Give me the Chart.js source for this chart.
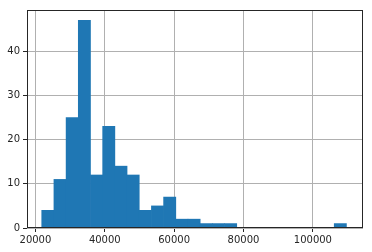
<!DOCTYPE html>
<html>
<head>
<meta charset="utf-8">
<script src="https://cdn.jsdelivr.net/npm/chart.js@4.4.0/dist/chart.umd.min.js"></script>
<style>
    html, body { margin: 0; padding: 0; background: #fff; }
    #wrap { width: 372px; height: 252px; }
</style>
</head>
<body>
<div id="wrap"><canvas id="histChart"></canvas></div>
<script>
// histogram bins
const binStart = 21820;
const binWidth = 3514;
const counts = [4, 11, 25, 47, 12, 23, 14, 12, 4, 5, 7, 2, 2, 1, 1, 1, 0, 0, 0, 0, 0, 0, 0, 0, 1];
const xTicks = [20000, 40000, 60000, 80000, 100000];
const yTicks = [0, 10, 20, 30, 40];

const points = counts.map((c, i) => ({ x: binStart + binWidth * (i + 0.5), y: c }));

// matplotlib style frame around the plot area
const framePlugin = {
    id: "frame",
    afterDraw(chart) {
        const a = chart.chartArea;
        const ctx = chart.ctx;
        ctx.save();
        ctx.strokeStyle = "#262626";
        ctx.lineWidth = 1;
        ctx.strokeRect(a.left + 0.5, a.top + 0.5, a.right - a.left - 1, a.bottom - a.top - 1);
        ctx.restore();
    }
};

const ctx = document.getElementById("histChart");

new Chart(ctx, {
    type: "bar",
    data: {
        datasets: [{
            data: points,
            backgroundColor: "#1f77b4",
            borderWidth: 0,
            barPercentage: 1,
            categoryPercentage: 1
        }]
    },
    options: {
        responsive: true,
        maintainAspectRatio: false,
        animation: false,
        layout: { padding: { top: 10, right: 9, left: 0, bottom: 0 } },
        plugins: {
            legend: { display: false },
            tooltip: { enabled: false }
        },
        scales: {
            x: {
                type: "linear",
                min: 17570,
                max: 114450,
                offset: false,
                z: 1,
                afterBuildTicks: (s) => { s.ticks = xTicks.map(v => ({ value: v })); },
                afterFit: (s) => { s.height = 24; },
                grid: { offset: false, color: "#b0b0b0", lineWidth: 1, tickLength: 4, tickColor: "#262626" },
                border: { display: false },
                ticks: {
                    color: "#262626",
                    font: { family: "DejaVu Sans", size: 10 },
                    padding: 2,
                    maxRotation: 0,
                    callback: (v) => String(v)
                }
            },
            y: {
                min: 0,
                max: 49.35,
                z: 1,
                afterBuildTicks: (s) => { s.ticks = yTicks.map(v => ({ value: v })); },
                afterFit: (s) => { s.width = 27; },
                grid: { color: "#b0b0b0", lineWidth: 1, tickLength: 4, tickColor: "#262626" },
                border: { display: false },
                ticks: {
                    color: "#262626",
                    font: { family: "DejaVu Sans", size: 10 },
                    padding: 3
                }
            }
        }
    },
    plugins: [framePlugin]
});
</script>
</body>
</html>
